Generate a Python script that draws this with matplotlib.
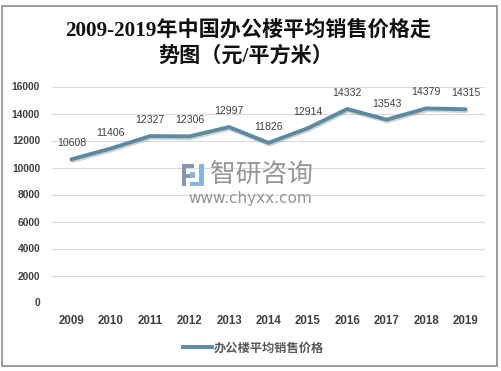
import matplotlib
matplotlib.use("Agg")
import matplotlib.pyplot as plt
import matplotlib.patheffects as pe
from matplotlib.patches import Rectangle
from matplotlib.lines import Line2D

years = ["2009", "2010", "2011", "2012", "2013", "2014", "2015", "2016", "2017", "2018", "2019"]
prices = [10608, 11406, 12327, 12306, 12997, 11826, 12914, 14332, 13543, 14379, 14315]
yticks = [0, 2000, 4000, 6000, 8000, 10000, 12000, 14000, 16000]
series_name = "办公楼平均销售价格"
title1 = "2009-2019年中国办公楼平均销售价格走"
title2 = "势图（元/平方米）"

W, H = 502, 371
fig = plt.figure(figsize=(W / 100, H / 100), dpi=100)
fig.patch.set_facecolor("white")

def fx(px):
    return px / W

def fy(py):
    return 1 - py / H

ax = fig.add_axes([fx(51.7), fy(302.5), fx(485.2) - fx(51.7), fy(86.5) - fy(302.5)])
ax.set_facecolor("none")

x = list(range(len(years)))
line_color = "#5A8BA2"
ax.plot(x, prices, color=line_color, lw=2.8, solid_capstyle="round", solid_joinstyle="round", zorder=3,
        path_effects=[pe.SimpleLineShadow(offset=(0.7, -1.3), shadow_color="#808080", alpha=0.35),
                      pe.Normal()])

for xi, v in zip(x, prices):
    ax.annotate(str(v), (xi, v), xytext=(0, 11.5), textcoords="offset points",
                ha="center", va="center", fontsize=7.6, color="#404040",
                family=["Liberation Sans"], zorder=4)

ax.set_xlim(-0.5, len(years) - 0.5)
ax.set_ylim(0, 16000)
ax.set_yticks(yticks)
ax.set_yticklabels([str(t) for t in yticks])
ax.set_xticks(x)
ax.set_xticklabels(years)
ax.grid(axis="y", color="#D9D9D9", lw=0.8)
ax.set_axisbelow(True)
for s in ax.spines.values():
    s.set_visible(False)
ax.tick_params(axis="both", length=0)
ax.tick_params(axis="x", pad=9.0)
ax.tick_params(axis="y", pad=8.4)
for lbl in ax.get_xticklabels():
    lbl.set_fontfamily(["Liberation Sans"])
    lbl.set_fontweight("bold")
    lbl.set_fontsize(8.3)
    lbl.set_color("#404040")
for lbl in ax.get_yticklabels():
    lbl.set_fontfamily(["Liberation Sans"])
    lbl.set_fontweight("bold")
    lbl.set_fontsize(7.4)
    lbl.set_color("#404040")

# Title
tfam = ["Liberation Serif", "Noto Sans CJK SC"]
fig.text(fx(248.5), fy(30), title1, ha="center", va="center", fontsize=15.2,
         family=tfam, fontweight="bold", color="#111111")
fig.text(fx(246), fy(56.5), title2, ha="center", va="center", fontsize=15.2,
         family=tfam, fontweight="bold", color="#111111")

# Watermark
fig.text(fx(210), fy(174.5), "智研咨询", ha="left", va="center", fontsize=18.5,
         family=["Noto Sans CJK SC"], color="#959595", zorder=1)
fig.text(fx(250), fy(198.5), "www.chyxx.com", ha="center", va="center", fontsize=11,
         family=["DejaVu Sans"], color="#959595", zorder=1)
logo = [
    ((182, 164), 12, 4, "#8596b8"),
    ((182, 168), 4, 18, "#8596b8"),
    ((186, 174), 5, 4, "#8596b8"),
    ((199, 164), 5, 22, "#86b6e0"),
    ((190, 182), 9, 4, "#86b6e0"),
    ((190, 172), 5, 6, "#86b6e0"),
]
for (px, py), w, h, c in logo:
    fig.add_artist(Rectangle((fx(px), fy(py + h)), w / W, h / H, transform=fig.transFigure,
                             facecolor=c, edgecolor="none", zorder=1))

# Legend
handle = Line2D([], [], color=line_color, lw=2.8)
leg = fig.legend([handle], [series_name], loc="center", bbox_to_anchor=(fx(253.5), fy(348)),
                 frameon=False, handlelength=2.4, handletextpad=0.15,
                 prop={"family": ["Noto Sans CJK SC"], "weight": "bold", "size": 8.8})
for t in leg.get_texts():
    t.set_color("#595959")

# Border
fig.add_artist(Rectangle((fx(2.5), fy(365.5)), 495 / W, 360 / H, transform=fig.transFigure,
                         facecolor="none", edgecolor="#8c8c8c", lw=1.2, zorder=10))

fig.savefig("out.png", dpi=100, facecolor="white")
